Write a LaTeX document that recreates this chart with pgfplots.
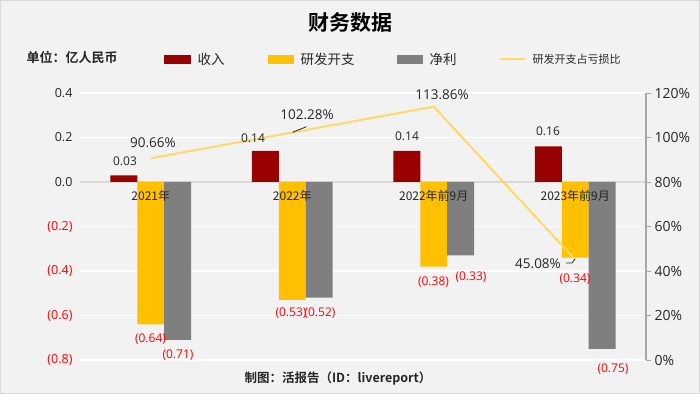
\documentclass[border=0pt]{standalone}
\usepackage{pgfplots}
\usepackage{pgfplotstable}
\pgfplotsset{compat=1.18}
\usepackage{fontspec}
\setmainfont{Open Sans}
\newfontfamily\cjk{Noto Sans CJK SC}[BoldFont={Noto Sans CJK SC Bold}]
\definecolor{bg}{HTML}{F2F2F2}
\definecolor{frame}{HTML}{D9D9D9}
\definecolor{rev}{HTML}{990000}
\definecolor{rd}{HTML}{FFC000}
\definecolor{np}{HTML}{7F7F7F}
\definecolor{ratio}{HTML}{FFD966}
\definecolor{neg}{HTML}{FF0000}
\definecolor{axisgray}{HTML}{A6A6A6}
\definecolor{txt}{HTML}{262626}
\pgfplotstableread{
x rev rd np ratio
0 0.03 -0.64 -0.71 90.66
1 0.14 -0.53 -0.52 102.28
2 0.14 -0.38 -0.33 113.86
3 0.16 -0.34 -0.75 45.08
}\datatable
\begin{document}
\begin{tikzpicture}
\fill[bg, draw=frame, line width=1pt] (0.5pt,0.5pt) rectangle (699.5pt,393.5pt);
\begin{axis}[
  at={(80pt,34pt)}, anchor=south west, scale only axis,
  width=566pt, height=267pt,
  xmin=-0.5, xmax=3.5, ymin=-0.8, ymax=0.4,
  axis line style={draw=none},
  /pgf/number format/assume math mode=true,
  xtick=\empty,
  major tick length=0pt,
  ytick={-0.8,-0.6,-0.4,-0.2,0,0.2,0.4},
  yticklabels={\textcolor{neg}{(0.8)},\textcolor{neg}{(0.6)},\textcolor{neg}{(0.4)},\textcolor{neg}{(0.2)},0.0,0.2,0.4},
  yticklabel style={font=\fontsize{12.5}{14}\selectfont, text=txt, xshift=-4pt},
  ymajorgrids, grid style={draw=white, line width=1.5pt},
  extra y ticks={0}, extra y tick labels={},
  extra y tick style={grid style={draw=frame, line width=1.2pt}},
  clip=false,
]
\addplot[ybar, bar width=0.19, bar shift=-0.19, fill=rev, draw=none] table[x=x,y=rev]{\datatable};
\addplot[ybar, bar width=0.19, bar shift=0, fill=rd, draw=none] table[x=x,y=rd]{\datatable};
\addplot[ybar, bar width=0.19, bar shift=0.19, fill=np, draw=none] table[x=x,y=np]{\datatable};
\end{axis}
\begin{axis}[
  at={(80pt,34pt)}, anchor=south west, scale only axis,
  width=566pt, height=267pt,
  xmin=-0.5, xmax=3.5, ymin=0, ymax=120,
  axis y line*=right,
  x axis line style={draw=none},
  y axis line style={draw=axisgray, line width=1.2pt},
  /pgf/number format/assume math mode=true,
  xtick={0,1,2,3},
  xticklabels={2021年,2022年,2022年前9月,2023年前9月},
  xticklabel style={yshift=178pt, font=\fontsize{12}{14}\selectfont\cjk, text=txt},
  xtick style={draw=none},
  ytick={0,20,...,120},
  yticklabel={\pgfmathprintnumber{\tick}\%},
  yticklabel style={font=\fontsize{14}{16}\selectfont, text=txt},
  tick align=outside, major tick length=5pt,
  ytick style={draw=axisgray, line width=1pt},
  clip=false,
]
\addplot[ratio, line width=2pt, mark=none] table[x=x,y=ratio]{\datatable};
\end{axis}
% title and legend
\node[font=\fontsize{21}{24}\selectfont\cjk\bfseries, text=black] at (350pt,371pt) {财务数据};
\node[font=\fontsize{13}{15}\selectfont\cjk\bfseries, text=txt, anchor=west] at (23pt,336pt) {单位：亿人民币};
\fill[rev] (164pt,330pt) rectangle (191pt,339pt);
\node[font=\fontsize{13.5}{15}\selectfont\cjk, text=txt, anchor=west] at (194pt,334.5pt) {收入};
\fill[rd] (268pt,330pt) rectangle (294pt,339pt);
\node[font=\fontsize{13.5}{15}\selectfont\cjk, text=txt, anchor=west] at (297pt,334.5pt) {研发开支};
\fill[np] (397pt,330pt) rectangle (423pt,339pt);
\node[font=\fontsize{13.5}{15}\selectfont\cjk, text=txt, anchor=west] at (426pt,334.5pt) {净利};
\draw[ratio, line width=2pt] (500pt,334.5pt) -- (525pt,334.5pt);
\node[font=\fontsize{11}{13}\selectfont\cjk, text=txt, anchor=west] at (529pt,334.5pt) {研发开支占亏损比};
% data labels
\begin{scope}[every node/.style={font=\fontsize{12}{14}\selectfont, text=txt}]
\node at (125pt,233pt) {0.03};
\node at (253pt,256pt) {0.14};
\node at (407pt,258pt) {0.14};
\node at (548pt,263pt) {0.16};
\end{scope}
\begin{scope}[every node/.style={font=\fontsize{12}{14}\selectfont, text=neg}]
\node at (150.5pt,55pt) {(0.64)};
\node at (178pt,39pt) {(0.71)};
\node at (291pt,81pt) {(0.53)};
\node at (320pt,81pt) {(0.52)};
\node at (433.5pt,112pt) {(0.38)};
\node at (471pt,117pt) {(0.33)};
\node at (575pt,115pt) {(0.34)};
\node at (613pt,25pt) {(0.75)};
\end{scope}
\begin{scope}[every node/.style={font=\fontsize{13.5}{15}\selectfont, text=txt}]
\node at (153pt,251pt) {90.66\%};
\node at (307pt,279pt) {102.28\%};
\node at (442pt,299pt) {113.86\%};
\node at (538pt,130pt) {45.08\%};
\end{scope}
\draw[txt, line width=0.8pt] (292.5pt,261.7pt) -- (306.5pt,267.3pt);
\draw[txt, line width=0.8pt] (566pt,131pt) -- (572pt,131pt) -- (575pt,135pt);
% footer
\node[font=\fontsize{12.5}{15}\selectfont\cjk\bfseries, text=txt] at (338pt,16pt) {制图：活报告（ID：livereport）};
\end{tikzpicture}
\end{document}
